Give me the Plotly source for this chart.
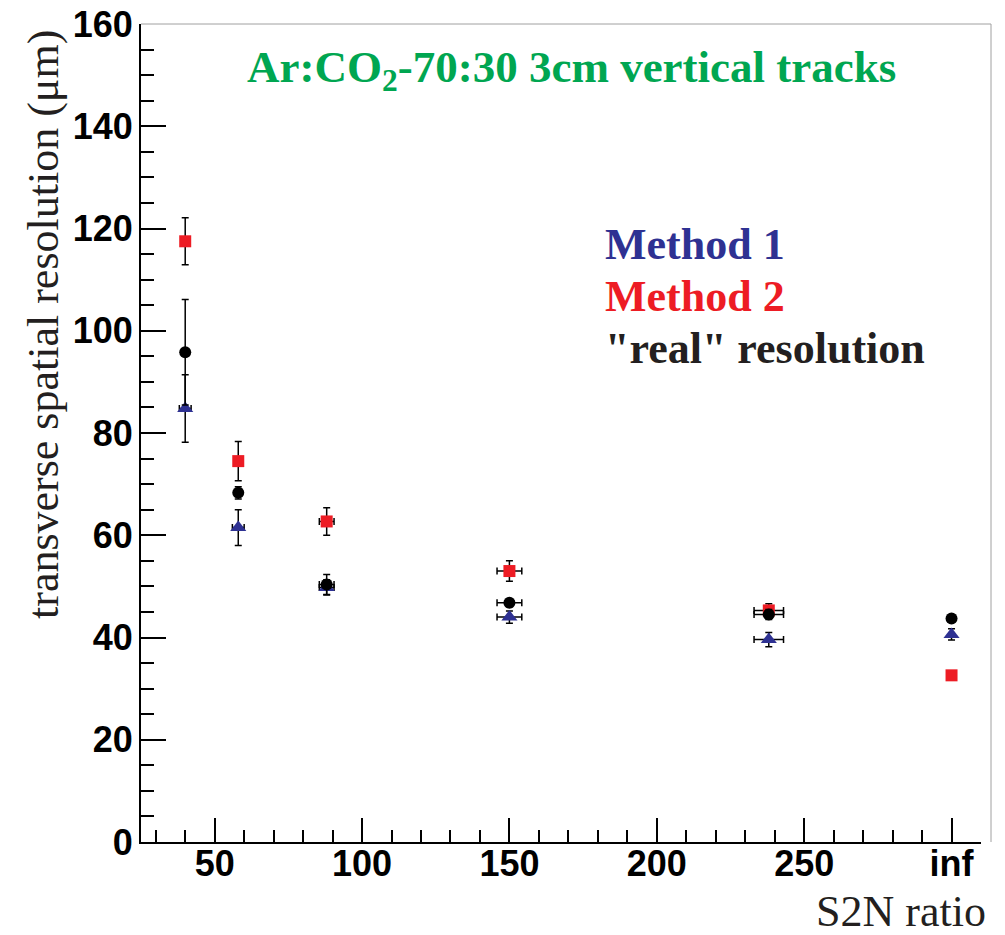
import plotly.graph_objects as go

# ---- data ----
s2n = [40, 58, 88, 150, 238, 300]          # 300 is plotted as "inf"
s2n_err_m1 = [2.0, 2.0, 2.5, 4.2, 5.0, 0.0]
s2n_err_other = [0.0, 0.0, 2.5, 4.2, 5.0, 0.0]

method1 = [84.8, 61.5, 49.8, 44.0, 39.6, 40.6]
method1_err = [6.6, 3.5, 1.5, 1.2, 1.4, 1.1]

method2 = [117.5, 74.5, 62.7, 53.0, 45.3, 32.6]
method2_err = [4.6, 3.85, 2.7, 2.0, 1.3, 0.0]

real = [95.8, 68.3, 50.35, 46.8, 44.5, 43.7]
real_err = [10.3, 1.2, 1.95, 0.8, 1.0, 0.0]

x_ticks_alias = {"300": "inf"}

BLUE = "#2e3192"
RED = "#ed1c24"
BLACK = "#000000"
GREEN = "#00a651"

fig = go.Figure()

def add_series(y, yerr, xerr, color, symbol, size):
    fig.add_trace(go.Scatter(
        x=s2n, y=y, mode="markers",
        marker=dict(symbol=symbol, size=size, color=color, line=dict(width=0)),
        error_y=dict(type="data", array=yerr, visible=True, color="black",
                     thickness=1.5, width=3.5),
        error_x=dict(type="data", array=xerr, visible=True, color="black",
                     thickness=1.5, width=3.5),
        showlegend=False,
    ))

add_series(method1, method1_err, s2n_err_m1, BLUE, "triangle-up", 14)
add_series(method2, method2_err, s2n_err_other, RED, "square", 12)
add_series(real, real_err, s2n_err_other, BLACK, "circle", 12)

# page offset of the figure (browser body margin)
OFF = 8
# target screen positions of plot frame
SX0, SX1, SY0, SY1 = 141, 981, 24, 842
W, H = 1005 - OFF, 935 - OFF
L, T = SX0 - OFF, SY0 - OFF
R = W - (SX1 - OFF)
B = H - (SY1 - OFF)
pw = W - L - R
ph = H - T - B

def px(xs):
    return (xs - SX0) / pw

def py(ys):
    return (SY1 - ys) / ph

tickfont = dict(family="Liberation Sans, Arial, sans-serif", size=36, color="black", weight="bold")

fig.update_layout(
    width=W, height=H,
    margin=dict(l=L, r=R, t=T, b=B, autoexpand=False),
    paper_bgcolor="white", plot_bgcolor="white",
    xaxis=dict(
        range=[25, 310], tickmode="linear", tick0=0, dtick=50,
        labelalias=x_ticks_alias, automargin=False, ticklabeloverflow="allow",
        ticks="inside", ticklen=24, tickwidth=2, tickcolor="black",
        minor=dict(dtick=10, tick0=0, ticks="inside", ticklen=12, tickwidth=1.5, tickcolor="black"),
        showline=True, linecolor="black", linewidth=2,
        showgrid=False, zeroline=False,
        tickfont=tickfont, ticklabelstandoff=-11,
    ),
    yaxis=dict(
        range=[0, 160], tickmode="linear", tick0=0, dtick=20,
        automargin=False, ticklabeloverflow="allow",
        ticks="inside", ticklen=25, tickwidth=2, tickcolor="black",
        minor=dict(dtick=5, tick0=0, ticks="inside", ticklen=13, tickwidth=1.5, tickcolor="black"),
        showline=True, linecolor="black", linewidth=2,
        showgrid=False, zeroline=False,
        tickfont=tickfont, ticklabelstandoff=-1,
    ),
)

# grey frame (top and right)
fig.add_shape(type="line", xref="paper", yref="paper", x0=0, x1=px(991), y0=1, y1=1,
              line=dict(color="#a0a0a0", width=1))
fig.add_shape(type="line", xref="paper", yref="paper", x0=px(991), x1=px(991), y0=0, y1=1,
              line=dict(color="#a0a0a0", width=1))

serif = "Liberation Serif, Times New Roman, serif"

# title
fig.add_annotation(xref="paper", yref="paper", x=px(571), y=py(70), xanchor="center", yanchor="middle",
                   text="Ar:CO<sub>2</sub>-70:30 3cm vertical tracks", showarrow=False,
                   font=dict(family=serif, size=45, color=GREEN, weight="bold"))

# legend texts
for txt, col, yc in [("Method 1", BLUE, 244), ("Method 2", RED, 296), ("\"real\" resolution", "#231f20", 348)]:
    fig.add_annotation(xref="paper", yref="paper", x=px(603), y=py(yc), xanchor="left", yanchor="middle",
                       text=txt, showarrow=False,
                       font=dict(family=serif, size=44, color=col, weight="bold"))

# axis titles
fig.add_annotation(xref="paper", yref="paper", x=px(44), y=py(325), xanchor="center", yanchor="middle",
                   text="transverse spatial resolution (\u03bcm)", textangle=-90, showarrow=False,
                   font=dict(family=serif, size=44, color="#231f20"))
fig.add_annotation(xref="paper", yref="paper", x=px(988), y=py(911), xanchor="right", yanchor="middle",
                   text="S2N ratio", showarrow=False,
                   font=dict(family=serif, size=44, color="#231f20"))

fig.write_html("out.html")
